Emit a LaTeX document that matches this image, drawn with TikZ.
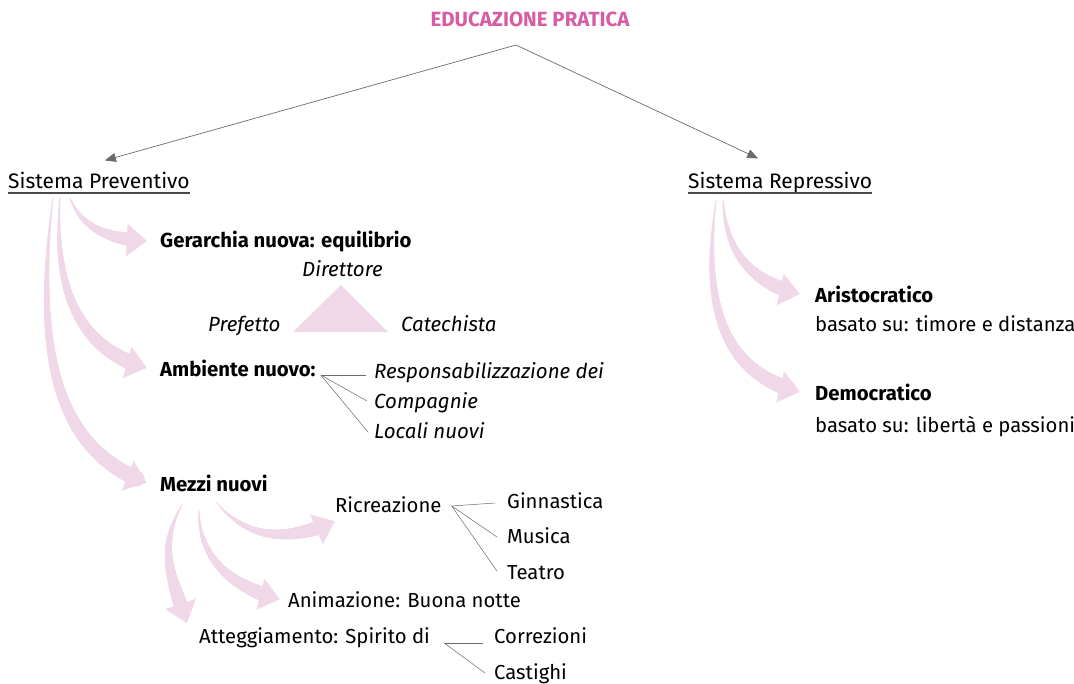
\documentclass[tikz,border=0pt]{standalone}
\usepackage{fontspec}
\setmainfont{Fira Sans}
\usetikzlibrary{arrows.meta,decorations.markings}
\definecolor{titlepink}{HTML}{D85CA5}
\definecolor{swooshpink}{HTML}{F0D8E9}
\definecolor{linegray}{HTML}{6B6B6B}
\definecolor{ulgray}{HTML}{4A4A4A}

\begin{document}
\begin{tikzpicture}[
  x=1pt, y=-1pt,
  every node/.style={inner sep=0pt, anchor=base west, font=\fontsize{20.3}{24}\selectfont},
  titlenode/.style={anchor=base, text=titlepink, font=\fontsize{20.5}{24}\selectfont\bfseries},
  sysnode/.style={font=\fontsize{21}{24}\selectfont},
  headnode/.style={font=\fontsize{20.3}{24}\selectfont\bfseries},
  rolenode/.style={font=\fontsize{20.5}{24}\selectfont\itshape},
  toparrow/.style={draw=linegray, line width=0.7pt, -{Triangle[width=9pt,length=11pt]}},
  branch/.style={draw=linegray, line width=0.5pt},
  ul/.style={draw=ulgray, line width=1.3pt},
  swoosh/.style={
    postaction={decorate, decoration={markings,
      mark=between positions 0 and 1 step 0.8pt with {%
        \pgfmathsetmacro\swd{\pgfkeysvalueof{/pgf/decoration/mark info/distance from start}}%
        \pgfmathtruncatemacro\swon{\swd<\pgfdecoratedpathlength-14?1:0}%
        \ifnum\swon=1
          \pgfmathsetmacro\swr{0.6+7.6*\swd/\pgfdecoratedpathlength}%
          \fill[swooshpink] (0,0) circle[radius=\swr pt];
        \fi}}},
    postaction={decorate, decoration={markings,
      mark=at position 0.998 with {\arrow[color=swooshpink]{Triangle[width=32pt,length=20pt]}}}}}
]
\path[use as bounding box, fill=white] (0,0) rectangle (1074,683);

% top of the tree
\node[titlenode] (title) at (530,26) {EDUCAZIONE PRATICA};
\coordinate (apex) at (516,45);
\node[sysnode] (prev) at (8,188) {Sistema Preventivo};
\node[sysnode] (rep) at (688,188) {Sistema Repressivo};
\draw[ul] ([yshift=-5pt]prev.base west) -- ([yshift=-5pt]prev.base east);
\draw[ul] ([yshift=-5pt]rep.base west) -- ([yshift=-5pt]rep.base east);
\draw[toparrow] (apex) -- ([xshift=6pt,yshift=11pt]prev.north);
\draw[toparrow] (apex) -- ([xshift=-22pt,yshift=13pt]rep.north);

% sistema preventivo
\node[headnode] (ger) at (160,247) {Gerarchia nuova: equilibrio};
\node[rolenode] (dir) at (302,276) {Direttore};
\node[rolenode] (pre) at (208,331) {Prefetto};
\node[rolenode] (cat) at (401,331) {Catechista};
\fill[swooshpink] (293,332) -- (388,332) -- (341,285) -- cycle;

\node[headnode] (amb) at (160,376) {Ambiente nuovo:};
\node[rolenode] (resp) at (374,378) {Responsabilizzazione dei};
\node[rolenode] (comp) at (374,408) {Compagnie};
\node[rolenode] (loc) at (374,438) {Locali nuovi};
\coordinate (ambfork) at ([xshift=5pt,yshift=1pt]amb.base east);
\draw[branch] (ambfork) -- ([xshift=-8pt,yshift=3pt]resp.base west);
\draw[branch] (ambfork) -- ([xshift=-7pt,yshift=7pt]comp.base west);
\draw[branch] (ambfork) -- ([xshift=-6pt,yshift=6pt]loc.base west);

\node[headnode] (mez) at (160,491) {Mezzi nuovi};
\node (ric) at (335,512) {Ricreazione};
\node (gin) at (507,508) {Ginnastica};
\node (mus) at (507,543) {Musica};
\node (tea) at (507,579) {Teatro};
\coordinate (ricfork) at ([xshift=10pt,yshift=6pt]ric.base east);
\draw[branch] (ricfork) -- ([xshift=-12pt,yshift=5pt]gin.base west);
\draw[branch] (ricfork) -- ([xshift=-10pt,yshift=6pt]mus.base west);
\draw[branch] (ricfork) -- ([xshift=-10pt,yshift=8pt]tea.base west);

\node (ani) at (288,607) {Animazione: Buona notte};
\node (att) at (199,643) {Atteggiamento: Spirito di};
\node (cor) at (494,643) {Correzioni};
\node (cas) at (494,679) {Castighi};
\coordinate (attfork) at ([xshift=14pt]att.base east);
\draw[branch] (attfork) -- ([xshift=-11pt]cor.base west);
\draw[branch] (attfork) -- ([xshift=-9pt,yshift=6pt]cas.base west);

% sistema repressivo
\node[headnode] (ari) at (815,302) {Aristocratico};
\node (ari2) at (815,331) {basato su: timore e distanza};
\node[headnode] (dem) at (815,400) {Democratico};
\node (dem2) at (815,432) {basato su: libertà e passioni};

% swooshes
\path[swoosh] ([xshift=-29pt,yshift=-10pt]prev.base) .. controls +(12,30) and +(-40,-2) .. ([xshift=-13pt]ger.west);
\path[swoosh] ([xshift=-39pt,yshift=-10pt]prev.base) .. controls +(-8,110) and +(-55,-15) .. ([xshift=-13pt]amb.west);
\path[swoosh] ([xshift=-46pt,yshift=-10pt]prev.base) .. controls +(-25,200) and +(-65,-25) .. ([xshift=-13pt]mez.west);
\path[swoosh] ([xshift=-57pt,yshift=-12pt]rep.base) .. controls +(2,55) and +(-45,-10) .. ([xshift=-15pt]ari.west);
\path[swoosh] ([xshift=-64pt,yshift=-12pt]rep.base) .. controls +(-18,130) and +(-60,-15) .. ([xshift=-15pt]dem.west);
\path[swoosh] ([xshift=3pt,yshift=-12pt]mez.base) .. controls +(30,35) and +(-50,22) .. ([yshift=-17pt]ric.west);
\path[swoosh] ([xshift=-15pt,yshift=-19pt]mez.base) .. controls +(0,55) and +(-40,-10) .. ([xshift=-8pt]ani.west);
\path[swoosh] ([xshift=-32pt,yshift=-14pt]mez.base) .. controls +(-25,45) and +(-15,-45) .. ([xshift=-12pt,yshift=14pt]att.west);
\end{tikzpicture}
\end{document}
